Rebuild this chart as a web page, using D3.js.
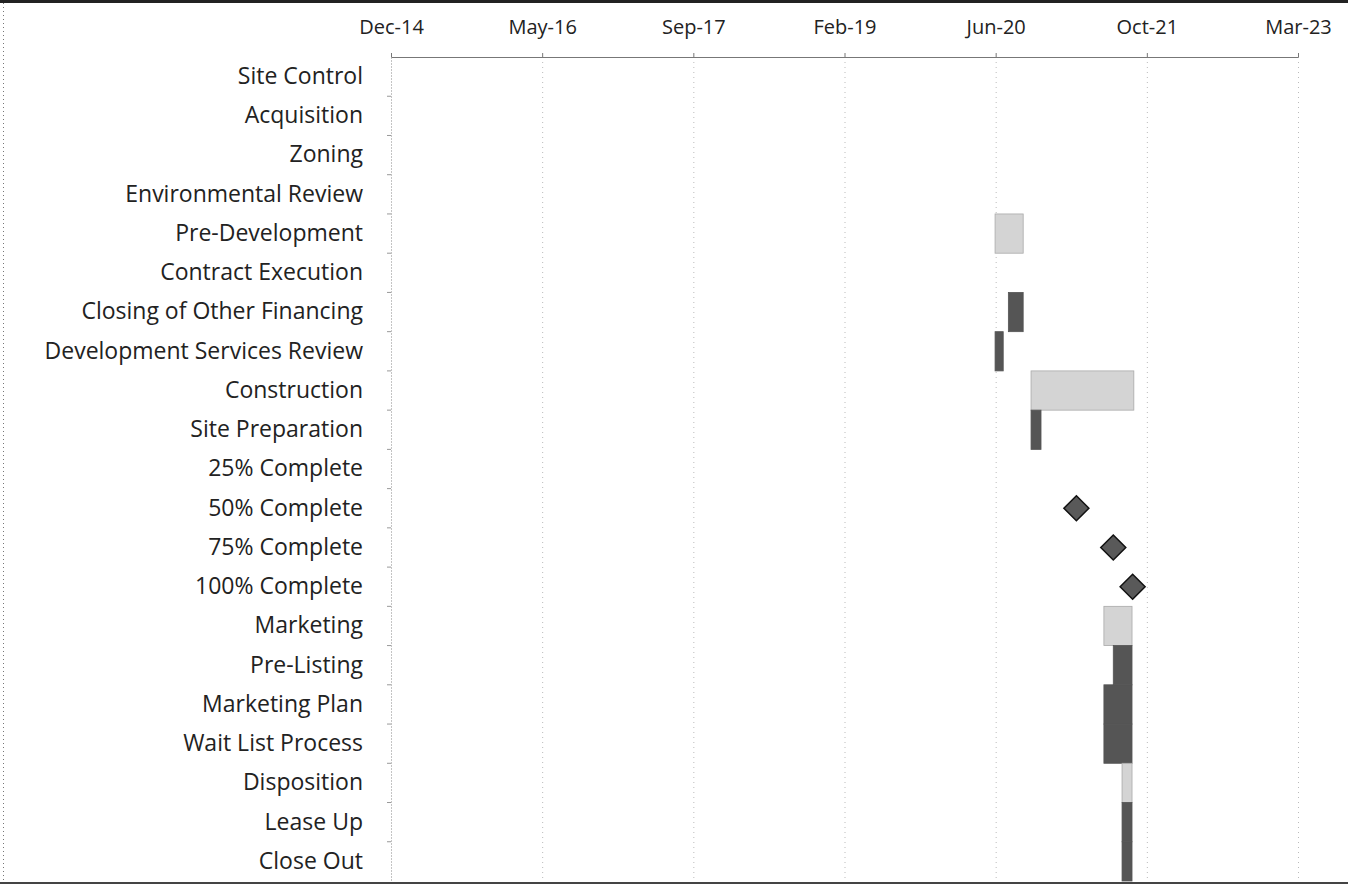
<!DOCTYPE html>
<html><head><meta charset="utf-8">
<script src="https://cdn.jsdelivr.net/npm/d3@7"></script>
<style>body{margin:0;background:#fff}svg{display:block}</style>
</head><body>
<script>
const categories = ["Site Control","Acquisition","Zoning","Environmental Review","Pre-Development","Contract Execution","Closing of Other Financing","Development Services Review","Construction","Site Preparation","25% Complete","50% Complete","75% Complete","100% Complete","Marketing","Pre-Listing","Marketing Plan","Wait List Process","Disposition","Lease Up","Close Out"];
const taskNames  = ["Pre-Development","Closing of Other Financing","Development Services Review","Construction","Site Preparation","Marketing","Pre-Listing","Marketing Plan","Wait List Process","Disposition","Lease Up","Close Out"];
const taskStarts = ["2020-06-16","2020-07-30","2020-06-16","2020-10-13","2020-10-13","2021-06-11","2021-07-12","2021-06-11","2021-06-11","2021-08-10","2021-08-10","2021-08-10"];
const taskEnds   = ["2020-09-17","2020-09-17","2020-07-13","2021-09-18","2020-11-15","2021-09-12","2021-09-12","2021-09-12","2021-09-12","2021-09-12","2021-09-12","2021-09-12"];
const taskTones  = ["light","dark","dark","light","dark","light","dark","dark","dark","light","dark","dark"];
const milestoneNames = ["50% Complete","75% Complete","100% Complete"];
const milestoneDates = ["2021-03-12","2021-07-12","2021-09-14"];
const tickDates  = ["2014-12-27","2016-05-10","2017-09-22","2019-02-04","2020-06-18","2021-10-31","2023-03-15"];
const tickLabels = ["Dec-14","May-16","Sep-17","Feb-19","Jun-20","Oct-21","Mar-23"];

const W = 1348, H = 886;
const plot = {left:391, right:1298, top:57, bottom:881};
const FONT = "'Open Sans', Lato, sans-serif";
const parse = d3.utcParse("%Y-%m-%d");
const svg = d3.select("body").append("svg").attr("width",W).attr("height",H);

// outer frame
svg.append("line").attr("x1",0).attr("x2",W).attr("y1",1.5).attr("y2",1.5).attr("stroke","#222").attr("stroke-width",3);
svg.append("line").attr("x1",0).attr("x2",W).attr("y1",883).attr("y2",883).attr("stroke","#444").attr("stroke-width",2);
svg.append("line").attr("x1",3.5).attr("x2",3.5).attr("y1",3).attr("y2",882).attr("stroke","#777").attr("stroke-dasharray","1,3");

const x = d3.scaleUtc().domain([parse(tickDates[0]), parse(tickDates[tickDates.length-1])]).range([plot.left, plot.right]);
const y = d3.scaleBand().domain(categories).range([plot.top, plot.bottom]).padding(0);

// gridlines
svg.append("g").selectAll("line").data(tickDates.slice(1)).join("line")
  .attr("x1",d=>x(parse(d))+0.5).attr("x2",d=>x(parse(d))+0.5)
  .attr("y1",plot.top).attr("y2",plot.bottom)
  .attr("stroke","#bbb").attr("stroke-dasharray","1,4");

// top axis
const ax = d3.axisTop(x).tickValues(tickDates.map(parse)).tickFormat((d,i)=>tickLabels[i]).tickSize(4).tickSizeOuter(0).tickPadding(19);
const gx = svg.append("g").attr("transform",`translate(0,${plot.top})`).call(ax);
gx.select(".domain").attr("stroke","#777");
gx.selectAll(".tick line").attr("stroke","#777");
gx.selectAll("text").attr("font-family",FONT).attr("font-size",20).attr("fill","#222");

// left axis
const ay = d3.axisLeft(y).tickSize(0).tickPadding(28);
const gy = svg.append("g").attr("transform",`translate(${plot.left},0)`).call(ay);
gy.select(".domain").attr("stroke","#888").attr("stroke-dasharray","1,2");
gy.selectAll("text").attr("font-family",FONT).attr("font-size",23).attr("fill","#222");
svg.append("g").selectAll("line").data(categories.slice(1)).join("line")
  .attr("x1",plot.left-4).attr("x2",plot.left).attr("y1",d=>y(d)).attr("y2",d=>y(d)).attr("stroke","#999");

// bars
const fills = {light:"#d4d4d4", dark:"#555"};
const strokes = {light:"#aaa", dark:"#555"};
svg.append("g").selectAll("rect").data(taskNames).join("rect")
  .attr("x",(d,i)=>x(parse(taskStarts[i])))
  .attr("width",(d,i)=>x(parse(taskEnds[i]))-x(parse(taskStarts[i])))
  .attr("y",d=>y(d)).attr("height",y.bandwidth())
  .attr("fill",(d,i)=>fills[taskTones[i]])
  .attr("stroke",(d,i)=>strokes[taskTones[i]]).attr("stroke-width",0.8);

// milestones
const s = 12.5;
svg.append("g").selectAll("path").data(milestoneNames).join("path")
  .attr("transform",(d,i)=>`translate(${x(parse(milestoneDates[i]))},${y(d)+y.bandwidth()/2})`)
  .attr("d",`M0,${-s}L${s},0L0,${s}L${-s},0Z`)
  .attr("fill","#595959").attr("stroke","#111").attr("stroke-width",1.5);
</script>
</body></html>
